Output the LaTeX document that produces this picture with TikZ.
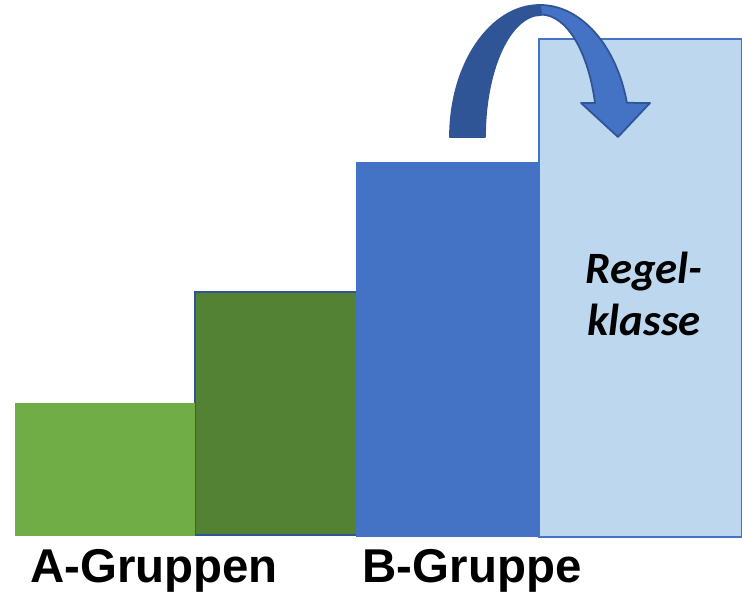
\documentclass[tikz,border=0pt]{standalone}
\usepackage{fontspec}
\setmainfont{Liberation Sans}
\newfontfamily\calibrifont{Carlito}
\usepackage{xcolor}
\definecolor{lightgreen}{HTML}{70AD47}
\definecolor{darkgreen}{HTML}{548235}
\definecolor{midblue}{HTML}{4472C4}
\definecolor{darkblue}{HTML}{2F5597}
\definecolor{paleblue}{HTML}{BDD7EE}
\tikzset{
    group-label/.style = {font=\fontsize{27}{30}\selectfont\bfseries, text=black, inner sep=0pt, anchor=base},
    class-label/.style = {font=\calibrifont\fontsize{25.5}{30}\selectfont\bfseries\itshape, align=center, inner sep=0pt},
    arrow-part/.style = {draw=darkblue, line width=1pt, line join=round},
}

\begin{document}
\begin{tikzpicture}[x=0.02cm, y=0.02cm]
\useasboundingbox (0,0) rectangle (742,591);
% steps
\draw[darkblue, line width=1.5pt, fill=darkgreen] (195,56) rectangle (358,299);
\fill[lightgreen] (15,55) rectangle (195,188);
\fill[midblue] (356,54) rectangle (540,429);
\draw[midblue, line width=1.5pt, fill=paleblue] (539,54) rectangle (742,552);
% curved arrow
\filldraw[arrow-part, fill=darkblue] (450,454) arc (180:90:90 and 132) -- (541,576)
    arc (90:180:56 and 122) -- cycle;
\filldraw[arrow-part, fill=midblue] (540,586) arc (90:15:90 and 132) -- (650,488) -- (618,454)
    -- (581,488) -- (595,488) arc (16:90:56 and 122) -- cycle;
% labels
\node[class-label] (regel) at (644,297) {Regel-\\klasse};
\node[group-label] (agroup) at (154,9) {A-Gruppen};
\node[group-label] (bgroup) at (472,9) {B-Gruppe};
\end{tikzpicture}
\end{document}
